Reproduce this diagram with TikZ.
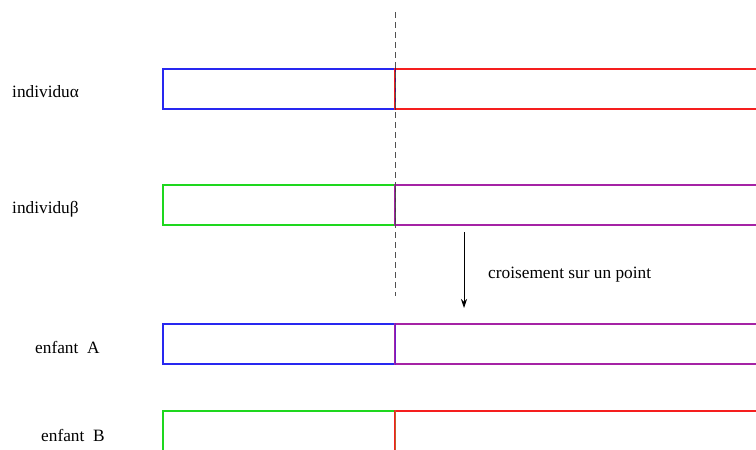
\documentclass[tikz,border=0pt]{standalone}
\usepackage{fontspec}
\setmainfont{Liberation Serif}
\usetikzlibrary{arrows.meta}
\definecolor{cblue}{RGB}{40,40,240}
\definecolor{cred}{RGB}{245,30,30}
\definecolor{cgreen}{RGB}{30,215,30}
\definecolor{cpurple}{RGB}{165,35,165}
\definecolor{cdash}{RGB}{80,80,80}
\definecolor{mixAlpha}{RGB}{80,20,110}
\definecolor{mixBeta}{RGB}{80,50,80}
\definecolor{mixA}{RGB}{110,30,200}
\definecolor{mixB}{RGB}{190,95,45}
\tikzset{
  seg/.style={draw, line width=1.1pt, rectangle, inner sep=0pt, minimum height=40pt},
  leftseg/.style={seg, minimum width=232pt},
  rightseg/.style={seg, minimum width=370pt},
  lbl/.style={anchor=base west, inner sep=0pt, font=\fontsize{17.3}{20}\selectfont},
  divider/.style={line width=1.6pt},
  cut/.style={draw=cdash, line width=1pt, dash pattern=on 6pt off 4pt},
  flow/.style={draw=black, line width=0.8pt, -{Stealth[length=9pt,width=6pt]}}
}
\begin{document}
\begin{tikzpicture}[x=1pt,y=-1pt]
\useasboundingbox (0,0) rectangle (756,450);
\clip (0,0) rectangle (756,450);
\fill[white] (0,0) rectangle (756,450);
% labels
\node[lbl] (tAlpha) at (12,97) {individuα};
\node[lbl] (tBeta) at (12,213) {individuβ};
\node[lbl] (tA) at (35,353) {enfant\ \ A};
\node[lbl] (tB) at (41,441) {enfant\ \ B};
% individu alpha
\node[leftseg, draw=cblue] (aL) at (279,89) {};
\node[rightseg, draw=cred] (aR) at (580,89) {};
% individu beta
\node[leftseg, draw=cgreen] (bL) at (279,205) {};
\node[rightseg, draw=cpurple] (bR) at (580,205) {};
% enfant A
\node[leftseg, draw=cblue] (eAL) at (279,344) {};
\node[rightseg, draw=cpurple] (eAR) at (580,344) {};
% enfant B
\node[leftseg, draw=cgreen] (eBL) at (279,431) {};
\node[rightseg, draw=cred] (eBR) at (580,431) {};
% dividers
\draw[divider, mixAlpha] (aL.north east) -- (aL.south east);
\draw[divider, mixBeta] (bL.north east) -- (bL.south east);
\draw[divider, mixA] (eAL.north east) -- (eAL.south east);
\draw[divider, mixB] (eBL.north east) -- (eBL.south east);
% crossing point
\coordinate (cutTop) at (395,12);
\coordinate (cutBot) at (395,296);
\draw[cut] (cutTop) -- (cutBot);
% arrow
\coordinate (arrTop) at (464,232);
\coordinate (arrBot) at (464,308);
\draw[flow] (arrTop) -- (arrBot);
\node[lbl] (tCross) at (488,278) {croisement sur un point};
\end{tikzpicture}
\end{document}
